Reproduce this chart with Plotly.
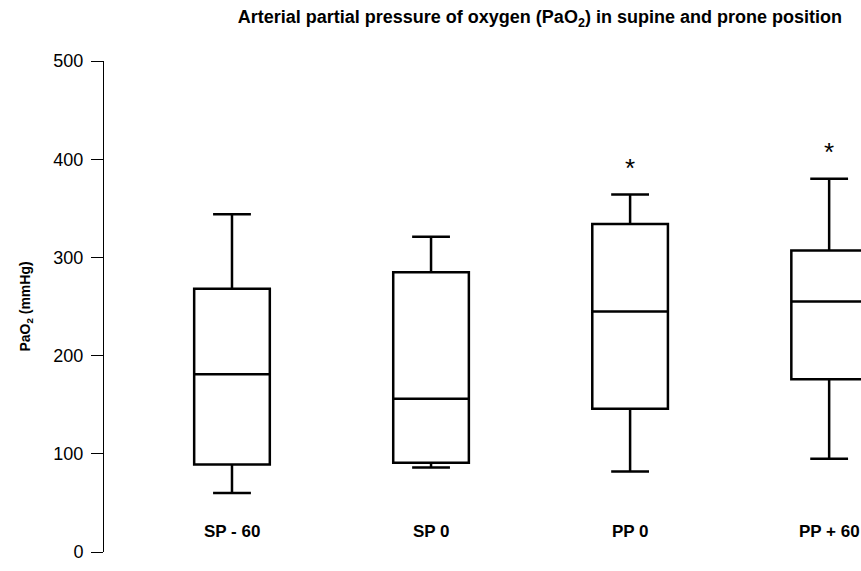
import plotly.graph_objects as go

categories = ["SP - 60", "SP 0", "PP 0", "PP + 60"]
lower_whisker = [60, 86, 82, 95]
q1_values = [89, 91, 146, 176]
median_values = [181, 156, 245, 255]
q3_values = [268, 285, 334, 307]
upper_whisker = [344, 321, 364, 380]
significant = [False, False, True, True]
y_ticks = [0, 100, 200, 300, 400, 500]

NARROW = "Liberation Sans Narrow, Arial Narrow, Liberation Sans, Arial, sans-serif"

fig = go.Figure()
fig.add_trace(go.Box(
    x=categories,
    q1=q1_values,
    median=median_values,
    q3=q3_values,
    lowerfence=lower_whisker,
    upperfence=upper_whisker,
    boxpoints=False,
    width=0.38,
    whiskerwidth=0.5,
    fillcolor="white",
    line=dict(color="black", width=2.5),
    showlegend=False,
    hoverinfo="skip",
))

for cat, up, sig in zip(categories, upper_whisker, significant):
    if sig:
        fig.add_annotation(x=cat, y=up, text="*", showarrow=False,
                           yanchor="bottom", yshift=10,
                           font=dict(family="Liberation Sans, Arial", size=26, color="black"))

for cat in categories:
    fig.add_annotation(x=cat, xref="x", y=0.041, yref="paper", text="<b>%s</b>" % cat,
                       showarrow=False, xanchor="center", yanchor="middle",
                       font=dict(family=NARROW, size=17, color="black"))

fig.update_layout(
    width=861, height=571,
    margin=dict(l=104, r=0, t=61, b=19),
    paper_bgcolor="white", plot_bgcolor="white",
    title=dict(
        text="<b>Arterial partial pressure of oxygen (PaO<sub>2</sub>) in supine and prone position</b>",
        x=0.627, xanchor="center", y=0.97, yanchor="middle",
        font=dict(family=NARROW, size=18, color="black"),
    ),
)
fig.update_xaxes(
    type="category", range=[-0.643, 3.16],
    showline=False, showgrid=False, zeroline=False, ticks="",
    showticklabels=False,
)
fig.update_yaxes(
    range=[0, 500], tickvals=y_ticks,
    showline=True, linecolor="black", linewidth=1,
    ticks="outside", ticklen=12, tickcolor="black", tickwidth=1,
    ticklabelstandoff=4,
    showgrid=False, zeroline=False,
    tickfont=dict(family="Liberation Sans, Arial", size=18, color="black"),
    title=dict(text="<b>PaO<sub>2</sub> (mmHg)</b>", standoff=19,
               font=dict(family="Liberation Sans, Arial", size=14, color="black")),
)

fig.write_html("out.html")
